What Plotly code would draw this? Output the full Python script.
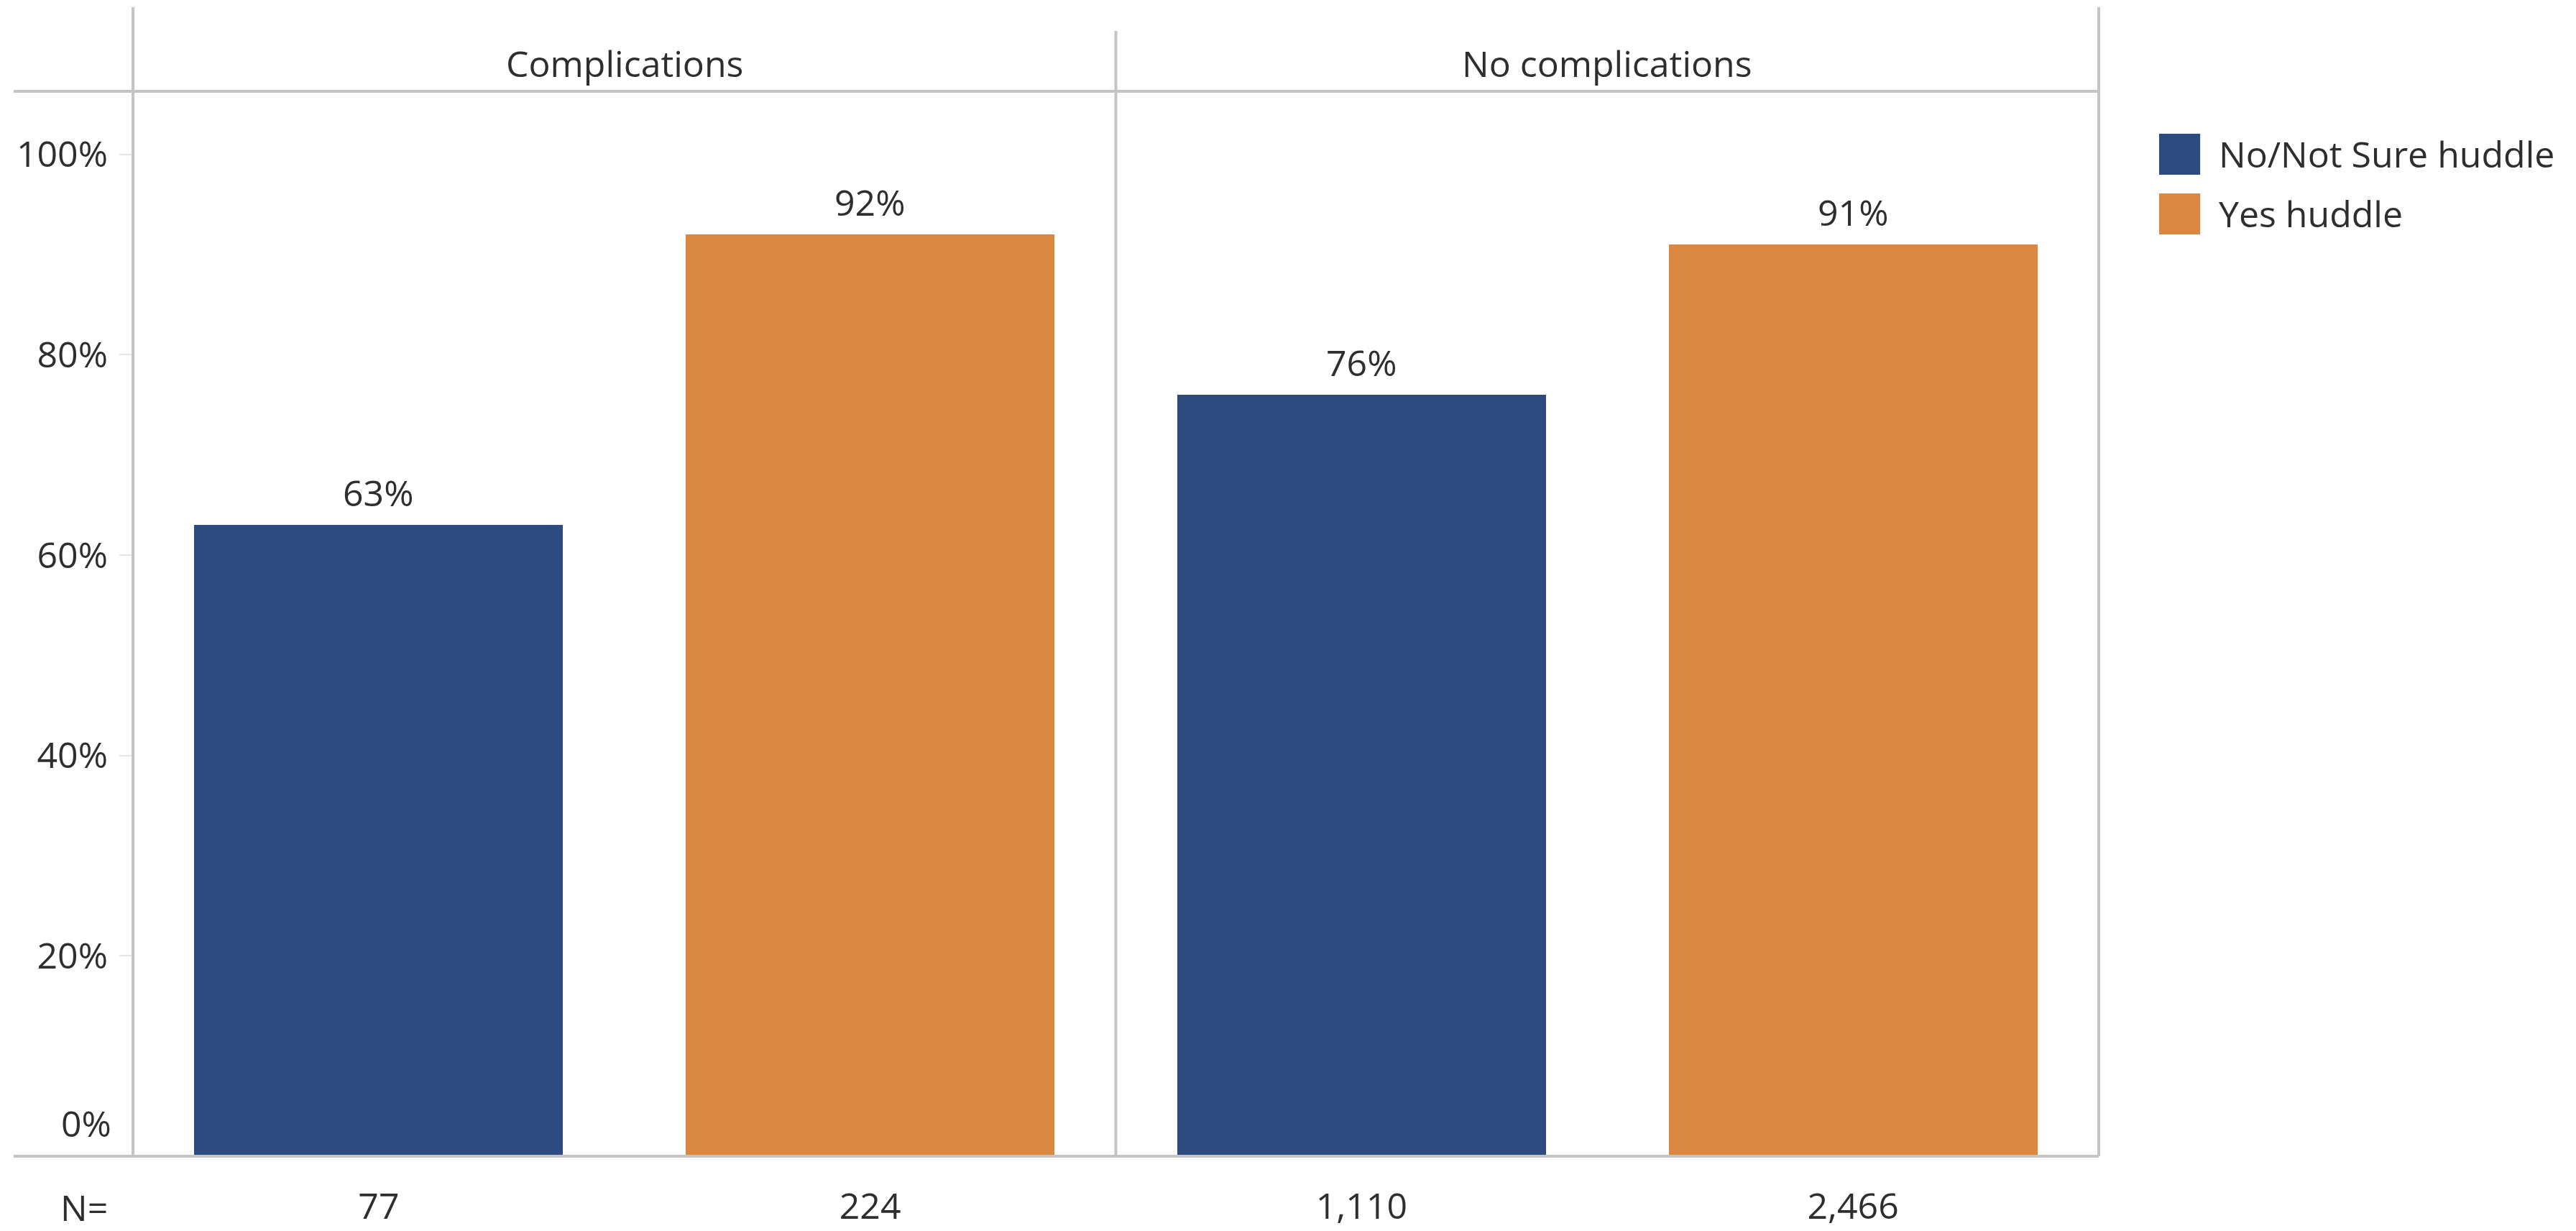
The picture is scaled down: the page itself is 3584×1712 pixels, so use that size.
import plotly.graph_objects as go

# Survey results: share of respondents, split by outcome group and huddle status
groups = ["Complications", "No complications"]
series = ["No/Not Sure huddle", "Yes huddle"]
pct_no_huddle = [63, 76]
pct_yes_huddle = [92, 91]
n_no_huddle = [77, 1110]
n_yes_huddle = [224, 2466]
y_ticks = [20, 40, 60, 80, 100]
y_tick_labels = ["20%", "40%", "60%", "80%", "100%"]

colors = ["#2E4B80", "#DA8742"]
line_col = "#C4C4C4"
text_col = "#2E2E2E"
FONT = "Open Sans"
FS = 50

values = [pct_no_huddle, pct_yes_huddle]
counts = [n_no_huddle, n_yes_huddle]

fig = go.Figure()

# one slot per (group, series) pair along a numeric x axis
slot_x, slot_n = [], []
for si, name in enumerate(series):
    xs = [gi * len(series) + si for gi in range(len(groups))]
    fig.add_trace(go.Bar(
        x=xs, y=values[si], width=0.75, name=name,
        marker=dict(color=colors[si], line=dict(width=0)),
        showlegend=False, hoverinfo="skip",
    ))
    for x, v in zip(xs, values[si]):
        fig.add_annotation(x=x, y=v, text=f"{v}%", showarrow=False,
                           yanchor="bottom", yshift=9,
                           font=dict(family=FONT, size=FS, color=text_col))
    slot_x += xs
    slot_n += counts[si]

order = sorted(range(len(slot_x)), key=lambda i: slot_x[i])
tickvals = [slot_x[i] for i in order]
ticktext = [f"{slot_n[i]:,}" for i in order]

n_slots = len(groups) * len(series)

# panel headers
for gi, g in enumerate(groups):
    fig.add_annotation(x=gi * len(series) + (len(series) - 1) / 2, xref="x",
                       y=1.026, yref="paper", text=g, showarrow=False,
                       yanchor="middle",
                       font=dict(family=FONT, size=FS, color=text_col))

# "N=" row label and the 0% label sitting above the baseline
fig.add_annotation(x=-0.0375, xref="paper", y=-0.048, yref="paper", text="N=",
                   showarrow=False, xanchor="left", yanchor="middle",
                   font=dict(family=FONT, size=FS, color=text_col))
fig.add_annotation(x=-0.0102, xref="paper", y=0, yref="y", text="0%",
                   showarrow=False, xanchor="right", yanchor="middle", yshift=46,
                   font=dict(family=FONT, size=FS, color=text_col))

# frame lines
shapes = [
    dict(type="line", xref="paper", yref="paper", x0=-0.0607, x1=1, y0=1, y1=1),
    dict(type="line", xref="paper", yref="paper", x0=-0.0607, x1=1, y0=0, y1=0),
    dict(type="line", xref="paper", yref="paper", x0=0, x1=0, y0=0, y1=1.079),
    dict(type="line", xref="paper", yref="paper", x0=1, x1=1, y0=0, y1=1.079),
    dict(type="line", xref="x", yref="paper", x0=n_slots / 2 - 0.5, x1=n_slots / 2 - 0.5,
         y0=0, y1=1.0567),
]
for s in shapes:
    s["line"] = dict(color=line_col, width=4)

# legend drawn as swatches with labels
leg_top = [0.9602, 0.9041]
for si, name in enumerate(series):
    shapes.append(dict(type="rect", xref="paper", yref="paper",
                       x0=1.0307, x1=1.0516, y0=leg_top[si] - 0.0385, y1=leg_top[si],
                       fillcolor=colors[si], line=dict(width=0)))
    fig.add_annotation(x=1.0603, xref="paper", y=leg_top[si] - 0.019, yref="paper",
                       text=name, showarrow=False, xanchor="left", yanchor="middle",
                       font=dict(family=FONT, size=FS, color=text_col))

fig.update_layout(
    width=3584, height=1712,
    margin=dict(l=185, r=664, t=127, b=104, pad=0),
    paper_bgcolor="white", plot_bgcolor="white",
    shapes=shapes,
    bargap=0,
    font=dict(family=FONT, size=FS, color=text_col),
)
fig.update_xaxes(range=[-0.5, n_slots - 0.5], tickvals=tickvals, ticktext=ticktext,
                 showgrid=False, zeroline=False, showline=False, ticks="",
                 automargin=False, ticklabelstandoff=36,
                 tickfont=dict(family=FONT, size=FS, color=text_col))
fig.update_yaxes(range=[0, 106.3], tickvals=y_ticks, ticktext=y_tick_labels,
                 showgrid=False, zeroline=False, showline=False,
                 ticks="outside", ticklen=18, tickwidth=2, tickcolor="#E6E6E6",
                 automargin=False, ticklabelstandoff=6,
                 tickfont=dict(family=FONT, size=FS, color=text_col))

fig.write_html("out.html")
